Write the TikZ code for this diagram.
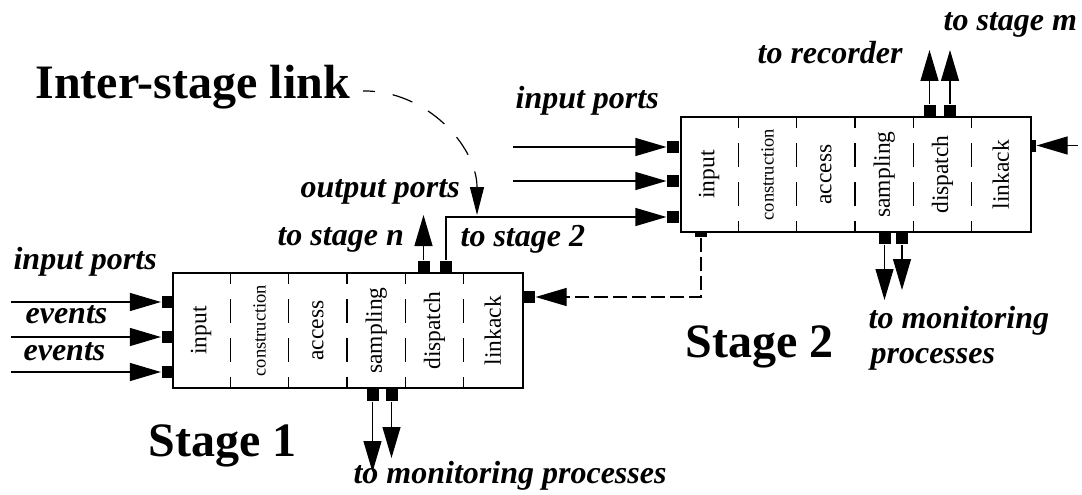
\documentclass[tikz,border=0pt]{standalone}
\usepackage{fontspec}
\setmainfont{Liberation Serif}
\usetikzlibrary{arrows.meta, positioning}
\def\colsep{58.333}

\begin{document}
\begin{tikzpicture}[x=1pt,y=-1pt,->,>={Triangle[length=31pt,width=18pt]},line width=1.2pt]
    \tikzstyle{stage}=[draw,line width=2pt,minimum width=350pt,minimum height=115pt,inner sep=0pt]
    \tikzstyle{port}=[fill=black,minimum width=12pt,minimum height=12pt,inner sep=0pt]
    \tikzstyle{slot}=[rotate=90,inner sep=0pt]
    \tikzstyle{divider}=[-,line width=1.1pt,dash pattern=on 24pt off 15pt,dash phase=12pt]
    \tikzstyle{lbl}=[font=\fontsize{32}{32}\selectfont\bfseries\itshape,inner sep=0pt,anchor=base west]
    \tikzstyle{title}=[font=\fontsize{48}{48}\selectfont\bfseries,inner sep=0pt,anchor=base west]
    \tikzstyle{back link}=[dash pattern=on 14pt off 5pt]
    \tikzstyle{pointer}=[dash pattern=on 21pt off 18pt,dash phase=9pt,>={Triangle[length=28pt,width=14pt]}]

    \useasboundingbox (0,0) rectangle (1082,495);

    % the two stages
    \node[stage] (S1) at (348,330.5) {};
    \node[stage] (S2) at (856,174.5) {};

    \foreach \s in {1,2}{
        \foreach \i/\name/\sz in {1/input/23.5,2/construction/18.5,3/access/23.5,4/sampling/23.5,5/dispatch/23.5,6/linkack/23.5}{
            \node[slot,font=\fontsize{\sz}{\sz}\selectfont] (C\s-\i) at ([xshift={(\i-0.5)*\colsep}]S\s.west) {\name};
        }
        \foreach \i in {1,...,5}
            \draw[divider] ([xshift=\i*\colsep]S\s.north west) -- ([xshift=\i*\colsep]S\s.south west);
    }

    % stage 1 ports
    \foreach \y [count=\k] in {302,337,372}{
        \node[port] (L1-\k) at (167.5,\y) {};
        \coordinate (l1-\k) at (11,\y);
        \draw (l1-\k) -- (L1-\k.west);
    }
    \node[port] (T1-1) at (423.5,267) {};
    \node[port] (T1-2) at (446,267) {};
    \node[port,minimum width=13pt] (R1) at (528.5,297) {};
    \node[port] (B1-1) at (372.5,395) {};
    \node[port] (B1-2) at (391.5,395) {};
    \coordinate (t1-1) at (423.5,215);
    \coordinate (b1-1) at (372.5,472);
    \coordinate (b1-2) at (391.5,458);
    \draw (T1-1.north) -- (t1-1);
    \draw (B1-1.south) -- (b1-1);
    \draw (B1-2.south) -- (b1-2);

    % stage 2 ports
    \foreach \y [count=\k] in {147,181,217}{
        \node[port] (L2-\k) at (673,\y) {};
    }
    \foreach \k in {1,2}{
        \coordinate (l2-\k) at (513,147+34*\k-34);
        \draw (l2-\k) -- (L2-\k.west);
    }
    \node[port] (T2-1) at (929.5,111) {};
    \node[port] (T2-2) at (950,111) {};
    \node[port,minimum width=5pt] (R2) at (1033.5,145.5) {};
    \node[port] (B2-1) at (884.5,238) {};
    \node[port] (B2-2) at (902,238) {};
    \node[port,minimum height=5pt] (B2-0) at (701,234.5) {};
    \coordinate (t2-1) at (929.5,50);
    \coordinate (t2-2) at (950,50);
    \coordinate (r2) at (1078,145.5);
    \coordinate (b2-1) at (884.5,300);
    \coordinate (b2-2) at (902,290);
    \draw (T2-1.north) -- (t2-1);
    \draw (T2-2.north) -- (t2-2);
    \draw (r2) -- (R2.east);
    \draw (B2-1.south) -- (b2-1);
    \draw (B2-2.south) -- (b2-2);

    % inter-stage links
    \draw (T1-2.north) |- (L2-3.west);
    \draw[back link] (B2-0.south) |- (R1.east);
    \coordinate (link-start) at (363,91);
    \coordinate (link-end) at (477,215);
    \draw[pointer] (link-start) .. controls (426,90) and (477,146) .. (link-end);

    % labels
    \node[title] (link) at (35,99) {Inter-stage link};
    \node[title] (st1) at (148,456) {Stage 1};
    \node[title] (st2) at (685,357) {Stage 2};
    \node[lbl] (in1) at (13,269) {input ports};
    \node[lbl] (ev1) at (25,323) {events};
    \node[lbl] (ev2) at (23,360) {events};
    \node[lbl] (out1) at (300,197) {output ports};
    \node[lbl] (ton) at (277,245) {to stage n};
    \node[lbl] (to2) at (460,246) {to stage 2};
    \node[lbl] (mon1) at (353,483) {to monitoring processes};
    \node[lbl] (in2) at (515,108) {input ports};
    \node[lbl] (rec) at (757,64) {to recorder};
    \node[lbl] (tom) at (943,31) {to stage m};
    \node[lbl] (mon2) at (868,328) {to monitoring};
    \node[lbl] (mon2b) at (870,363) {processes};
\end{tikzpicture}
\end{document}
